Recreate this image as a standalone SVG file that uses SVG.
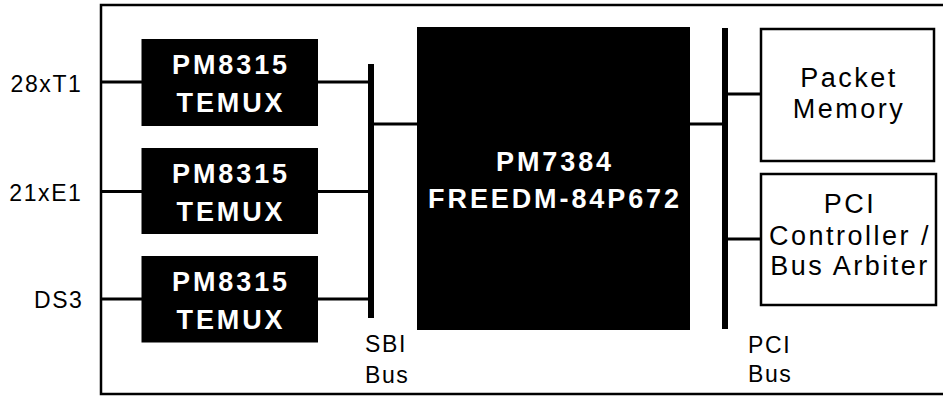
<svg xmlns="http://www.w3.org/2000/svg" width="943" height="396" viewBox="0 0 943 396">
<style>
.frame{fill:none;stroke:#000;stroke-width:2.5}
.chip{fill:#000}
.box{fill:#fff;stroke:#000;stroke-width:2.5}
.wire{stroke:#000;stroke-width:3;fill:none}
.bus{stroke:#000;stroke-width:6;fill:none}
.chipt{font-family:"Liberation Sans",Arial,sans-serif;font-weight:bold;font-size:27px;letter-spacing:2.9px;fill:#fff;text-anchor:middle}
.boxt{font-family:"Liberation Sans",Arial,sans-serif;font-size:27px;letter-spacing:2.5px;fill:#000;text-anchor:middle}
.lbl{font-family:"Liberation Sans",Arial,sans-serif;font-size:23px;letter-spacing:1.6px;fill:#000}
</style>
<rect width="943" height="396" fill="#fff"/>
<rect class="frame" x="101" y="5" width="900" height="389"/>
<g id="connectors">
<line class="wire" x1="100" y1="82" x2="142" y2="82"/>
<line class="wire" x1="100" y1="191.5" x2="142" y2="191.5"/>
<line class="wire" x1="100" y1="299" x2="142" y2="299"/>
<line class="wire" x1="317" y1="82" x2="371" y2="82"/>
<line class="wire" x1="317" y1="191.5" x2="371" y2="191.5"/>
<line class="wire" x1="317" y1="299" x2="371" y2="299"/>
<line class="bus" x1="371" y1="64" x2="371" y2="318"/>
<line class="wire" x1="371" y1="124" x2="418" y2="124"/>
<line class="wire" x1="689" y1="124" x2="725" y2="124"/>
<line class="bus" x1="725" y1="28" x2="725" y2="329"/>
<line class="wire" x1="725" y1="94" x2="761" y2="94"/>
<line class="wire" x1="725" y1="239" x2="761" y2="239"/>
</g>
<g id="in-labels">
<text class="lbl" x="82.5" y="92" text-anchor="end">28xT1</text>
<text class="lbl" x="82.5" y="201" text-anchor="end">21xE1</text>
<text class="lbl" x="83.5" y="308" text-anchor="end">DS3</text>
</g>
<g id="temux1">
<rect class="chip" x="141.5" y="39" width="176.5" height="87"/>
<text class="chipt" x="231" y="74">PM8315</text>
<text class="chipt" x="231" y="111.5">TEMUX</text>
</g>
<g id="temux2">
<rect class="chip" x="141.5" y="148" width="176.5" height="86"/>
<text class="chipt" x="231" y="183">PM8315</text>
<text class="chipt" x="231" y="220.5">TEMUX</text>
</g>
<g id="temux3">
<rect class="chip" x="141.5" y="256" width="176.5" height="86.5"/>
<text class="chipt" x="231" y="291">PM8315</text>
<text class="chipt" x="231" y="328.5">TEMUX</text>
</g>
<g id="freedm">
<rect class="chip" x="417" y="27" width="273" height="303"/>
<text class="chipt" x="555" y="171">PM7384</text>
<text class="chipt" x="555" y="208">FREEDM-84P672</text>
</g>
<g id="packet-memory">
<rect class="box" x="761" y="29" width="173" height="132"/>
<text class="boxt" x="849" y="87">Packet</text>
<text class="boxt" x="849" y="118">Memory</text>
</g>
<g id="pci-controller">
<rect class="box" x="761" y="174" width="175" height="131"/>
<text class="boxt" x="850" y="213">PCI</text>
<text class="boxt" x="850" y="245">Controller /</text>
<text class="boxt" x="850" y="275">Bus Arbiter</text>
</g>
<g id="bus-labels">
<text class="lbl" x="365" y="352">SBI</text>
<text class="lbl" x="365" y="383">Bus</text>
<text class="lbl" x="748" y="353">PCI</text>
<text class="lbl" x="748" y="382">Bus</text>
</g>
</svg>
